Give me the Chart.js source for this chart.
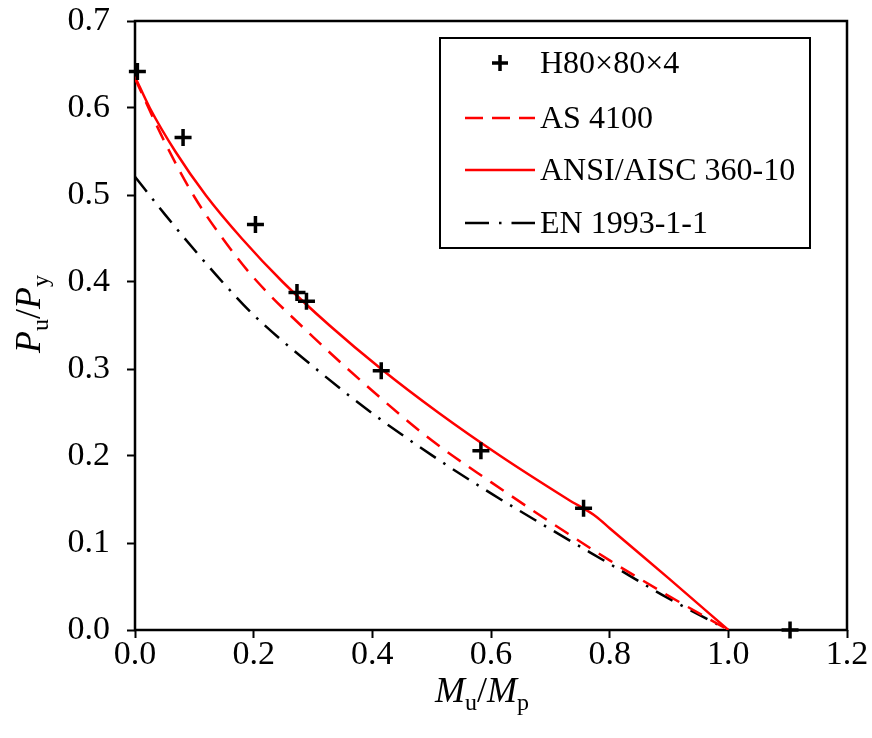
<!DOCTYPE html>
<html>
<head>
<meta charset="utf-8">
<script src="https://cdn.jsdelivr.net/npm/chart.js@4/dist/chart.umd.min.js"></script>
<style>
html,body{margin:0;padding:0;background:#ffffff;}
#wrap{width:872px;height:738px;position:relative;}
</style>
</head>
<body>
<div id="wrap"><canvas id="c" width="872" height="738"></canvas></div>
<script>
// ---- data ----
const seriesNames = ['H80\u00d780\u00d74', 'AS 4100', 'ANSI/AISC 360-10', 'EN 1993-1-1'];

const testMu = [0.004, 0.081, 0.203, 0.273, 0.289, 0.415, 0.583, 0.756, 1.104];
const testPu = [0.642, 0.566, 0.466, 0.388, 0.378, 0.298, 0.206, 0.140, 0.000];

const asMu = [0, 0.05, 0.10, 0.15, 0.20, 0.30, 0.40, 0.50, 0.60, 0.70, 0.80, 0.90, 1.0];
const asPu = [0.634, 0.561, 0.498, 0.448, 0.405, 0.337, 0.275, 0.218, 0.170, 0.124, 0.080, 0.039, 0];

const aiscMu = [0, 0.025, 0.068, 0.119, 0.180, 0.249, 0.328, 0.415, 0.511, 0.616, 0.730, 0.778, 0.80, 0.90, 1.0];
const aiscPu = [0.636, 0.600, 0.550, 0.500, 0.450, 0.400, 0.350, 0.300, 0.250, 0.200, 0.150, 0.130, 0.117, 0.059, 0];

const enMu = [0, 0.05, 0.10, 0.15, 0.20, 0.30, 0.40, 0.50, 0.60, 0.70, 0.80, 0.90, 1.0];
const enPu = [0.521, 0.478, 0.437, 0.398, 0.362, 0.303, 0.249, 0.201, 0.157, 0.116, 0.076, 0.036, 0];

const xTickValues = [0, 0.2, 0.4, 0.6, 0.8, 1.0, 1.2];
const yTickValues = [0, 0.1, 0.2, 0.3, 0.4, 0.5, 0.6, 0.7];

// ---- build ----
const toXY = (xs, ys) => xs.map((x, i) => ({x: x, y: ys[i]}));
const FONT = '"Liberation Serif", "Times New Roman", serif';
const RED = '#ff0000';

const dsStyle = [
  {color: '#000000', dash: []},
  {color: RED, dash: [16, 10], legendDash: [18, 9]},
  {color: RED, dash: [], legendDash: []},
  {color: '#000000', dash: [19, 9, 2.5, 9], legendDash: [24, 10, 2.5, 10]}
];

const noPad = s => { s.paddingTop = 0; s.paddingBottom = 0; s.paddingLeft = 0; s.paddingRight = 0; };

const frame = {
  id: 'frame',
  beforeDatasetsDraw(chart) {
    const {ctx, chartArea: a} = chart;
    ctx.save();
    ctx.strokeStyle = '#000';
    ctx.lineWidth = 2.5;
    ctx.strokeRect(a.left, a.top, a.right - a.left, a.bottom - a.top);
    ctx.restore();
  },
  afterDraw(chart) {
    const ctx = chart.ctx;
    ctx.save();
    // legend
    const L = {x: 440, y: 38, w: 370, h: 210, rows: [63, 118, 170, 223], sx0: 465, sx1: 535, tx: 540};
    ctx.lineWidth = 2;
    ctx.strokeStyle = '#000';
    ctx.strokeRect(L.x, L.y, L.w, L.h);
    ctx.font = '32px ' + FONT;
    ctx.textBaseline = 'middle';
    ctx.textAlign = 'left';
    ctx.fillStyle = '#000';
    seriesNames.forEach((name, i) => {
      const y = L.rows[i];
      const st = dsStyle[i];
      if (i === 0) {
        ctx.lineWidth = 3.5;
        ctx.strokeStyle = '#000';
        ctx.setLineDash([]);
        ctx.beginPath();
        ctx.moveTo(492, y); ctx.lineTo(508, y);
        ctx.moveTo(500, y - 8); ctx.lineTo(500, y + 8);
        ctx.stroke();
      } else {
        ctx.lineWidth = 2.5;
        ctx.strokeStyle = st.color;
        ctx.setLineDash(st.legendDash);
        ctx.beginPath();
        ctx.moveTo(L.sx0, y); ctx.lineTo(L.sx1, y);
        ctx.stroke();
        ctx.setLineDash([]);
      }
      ctx.fillText(name, L.tx, y + 2);
    });
    // axis titles
    const drawRich = (parts, cx, baseY) => {
      const big = 36, small = 24;
      let w = 0;
      parts.forEach(p => {
        ctx.font = (p.it ? 'italic ' : '') + (p.sub ? small : big) + 'px ' + FONT;
        p.w = ctx.measureText(p.t).width;
        w += p.w;
      });
      let x = cx - w / 2;
      ctx.textAlign = 'left';
      ctx.textBaseline = 'alphabetic';
      parts.forEach(p => {
        ctx.font = (p.it ? 'italic ' : '') + (p.sub ? small : big) + 'px ' + FONT;
        ctx.fillText(p.t, x, baseY + (p.sub ? 8 : 0));
        x += p.w;
      });
    };
    drawRich([{t: 'M', it: true}, {t: 'u', sub: true}, {t: '/'}, {t: 'M', it: true}, {t: 'p', sub: true}], 482, 702);
    ctx.save();
    ctx.translate(40, 314);
    ctx.rotate(-Math.PI / 2);
    drawRich([{t: 'P', it: true}, {t: 'u', sub: true}, {t: '/'}, {t: 'P', it: true}, {t: 'y', sub: true}], 0, 0);
    ctx.restore();
    ctx.restore();
  }
};

const lineDs = (label, xs, ys, st) => ({
  label: label,
  data: toXY(xs, ys),
  showLine: true,
  borderColor: st.color,
  backgroundColor: st.color,
  borderWidth: 2.5,
  borderDash: st.dash,
  pointRadius: 0,
  cubicInterpolationMode: 'monotone',
  fill: false
});

new Chart(document.getElementById('c'), {
  type: 'scatter',
  data: {
    datasets: [
      {
        label: seriesNames[0],
        data: toXY(testMu, testPu),
        showLine: false,
        pointStyle: 'cross',
        pointRadius: 8.5,
        pointBorderWidth: 3.5,
        borderColor: '#000',
        backgroundColor: '#000',
        clip: false
      },
      lineDs(seriesNames[1], asMu, asPu, dsStyle[1]),
      lineDs(seriesNames[2], aiscMu, aiscPu, dsStyle[2]),
      lineDs(seriesNames[3], enMu, enPu, dsStyle[3])
    ]
  },
  options: {
    responsive: false,
    animation: false,
    devicePixelRatio: 1,
    layout: {padding: {left: 0, right: 25, top: 21, bottom: 0}},
    plugins: {legend: {display: false}, tooltip: {enabled: false}},
    scales: {
      x: {
        type: 'linear',
        min: 0, max: 1.2,
        afterBuildTicks: s => { s.ticks = xTickValues.map(v => ({value: v})); },
        afterFit: s => { s.height = 108; noPad(s); },
        border: {display: false},
        grid: {drawOnChartArea: false, drawTicks: true, tickLength: 8, color: '#000', tickColor: '#000', tickWidth: 2},
        ticks: {color: '#000', font: {family: FONT, size: 34}, padding: -3, maxRotation: 0, callback: v => Number(v).toFixed(1)}
      },
      y: {
        type: 'linear',
        min: 0, max: 0.7,
        afterBuildTicks: s => { s.ticks = yTickValues.map(v => ({value: v})); },
        afterFit: s => { s.width = 135; noPad(s); },
        border: {display: false},
        grid: {drawOnChartArea: false, drawTicks: true, tickLength: 8, color: '#000', tickColor: '#000', tickWidth: 2},
        ticks: {color: '#000', font: {family: FONT, size: 34}, padding: 17, callback: v => Number(v).toFixed(1)}
      }
    }
  },
  plugins: [frame]
});
</script>
</body>
</html>
